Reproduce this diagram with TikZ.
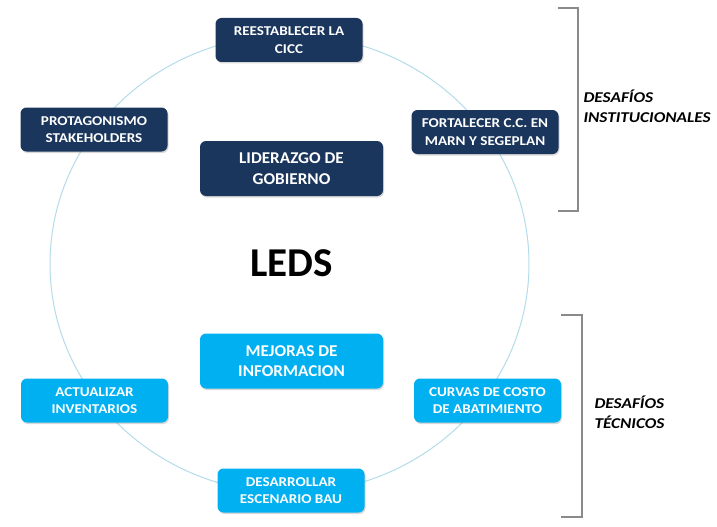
\documentclass[tikz,border=0pt]{standalone}
\usepackage{fontspec}
\setmainfont{Carlito}
\newfontfamily\widesmall{Carlito}[FakeStretch=1.12]
\newfontfamily\widebig{Carlito}[FakeStretch=1.04]
\newfontfamily\wideside{Carlito}[FakeStretch=1.15]
\usetikzlibrary{shadows}
\definecolor{navy}{HTML}{1B365D}
\definecolor{sky}{HTML}{00B0F0}
\definecolor{ringc}{HTML}{B4DCEA}
\definecolor{brk}{HTML}{8A8A8A}
\begin{document}
\begin{tikzpicture}[x=1pt,y=-1pt,
  basebox/.style={rounded corners=6pt, align=center, text=white, inner sep=0pt,
    drop shadow={shadow xshift=1pt, shadow yshift=-1.5pt, opacity=0.3}},
  smallbox/.style={basebox, minimum width=147pt, minimum height=44pt,
    font=\widesmall\bfseries\fontsize{13.5}{17.5}\selectfont},
  bigbox/.style={basebox, minimum width=183pt, minimum height=55pt,
    font=\widebig\bfseries\fontsize{16.5}{20.5}\selectfont},
  navybox/.style={smallbox, fill=navy},
  navybig/.style={bigbox, fill=navy},
  skybox/.style={smallbox, fill=sky},
  skybig/.style={bigbox, fill=sky},
  ringline/.style={draw=ringc, line width=1pt},
  bracket/.style={draw=brk, line width=1.5pt},
  sidelabel/.style={anchor=west, align=left, font=\wideside\bfseries\itshape\fontsize{15}{20}\selectfont}
]
\useasboundingbox (0,0) rectangle (717,527);
\fill[white] (0,0) rectangle (717,527);

% ring
\path[ringline] (289.5,264) ellipse [x radius=239.5pt, y radius=229pt];

% institutional challenges
\node[navybox] (cicc) at (289,40) {REESTABLECER LA\\CICC};
\node[navybox] (stake) at (94,129.5) {PROTAGONISMO\\STAKEHOLDERS};
\node[navybox] (marn) at (485,132) {FORTALECER C.C. EN\\MARN Y SEGEPLAN};
\node[navybig] (lider) at (291.5,168.5) {LIDERAZGO DE\\GOBIERNO};

% center
\node (leds) at (291.5,263) {\fontsize{41}{41}\selectfont\bfseries LEDS};

% technical challenges
\node[skybig] (info) at (291.5,361) {MEJORAS DE\\INFORMACION};
\node[skybox] (inv) at (94.5,400.5) {ACTUALIZAR\\INVENTARIOS};
\node[skybox] (curv) at (487.5,400.5) {CURVAS DE COSTO\\DE ABATIMIENTO};
\node[skybox] (bau) at (291,490.5) {DESARROLLAR\\ESCENARIO BAU};

% brackets
\path[bracket] (558,8) -- (578,8) -- (578,211) -- (558,211);
\path[bracket] (561,315) -- (582,315) -- (582,517) -- (561,517);

\node[sidelabel] (inst) at (580,106) {DESAFÍOS\\INSTITUCIONALES};
\node[sidelabel] (tec) at (591,412) {DESAFÍOS\\TÉCNICOS};
\end{tikzpicture}
\end{document}
